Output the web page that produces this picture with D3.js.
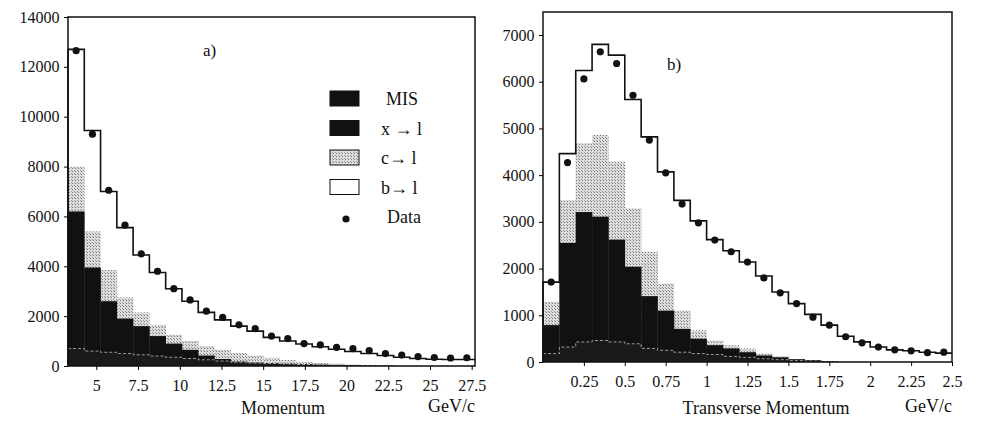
<!DOCTYPE html>
<html><head><meta charset="utf-8">
<script src="https://cdn.jsdelivr.net/npm/d3@7"></script>
<style>
body{margin:0;background:#fff}
text{font-family:"Liberation Serif","DejaVu Serif",serif;fill:#111}
</style></head>
<body><svg id="chart" width="986" height="425"></svg>
<script>
// panel a) : momentum, 25 bins; stacked tops (MIS, +x->l, +c->l, total incl. b->l)
var pTicks = [5, 7.5, 10, 12.5, 15, 17.5, 20, 22.5, 25, 27.5];
var pMisTop = [700,600,550,500,450,400,350,300,250,200,150,120,100,80,60,50,40,30,20,10,0,0,0,0,0];
var pXTop   = [6200,3950,2600,1900,1600,1200,900,650,420,280,180,140,110,90,70,55,45,35,25,15,0,0,0,0,0];
var pCTop   = [8000,5400,3850,2750,2150,1650,1250,1000,800,650,520,420,330,240,170,120,90,60,40,20,0,0,0,0,0];
var pTotal  = [12700,9450,7000,5550,4450,3750,3100,2600,2150,1850,1600,1400,1150,1000,880,770,670,580,500,420,350,300,270,260,260];
var pData   = [12650,9300,7050,5650,4500,3800,3100,2650,2200,1950,1650,1500,1200,1100,900,850,750,700,620,500,440,380,340,320,330];

// panel b) : transverse momentum, 25 bins of 0.1 GeV/c
var tTicks = [0.25, 0.5, 0.75, 1, 1.25, 1.5, 1.75, 2, 2.25, 2.5];
var tMisTop = [180,320,430,460,430,390,290,250,210,180,160,120,100,70,50,30,20,10,0,0,0,0,0,0,0];
var tXTop   = [790,2550,3210,3110,2620,2040,1410,1100,710,500,360,290,210,140,100,60,40,20,0,0,0,0,0,0,0];
var tCTop   = [1290,3460,4680,4860,4290,3290,2360,1680,1100,680,460,360,290,180,120,60,40,20,0,0,0,0,0,0,0];
var tTotal  = [1710,4460,6240,6800,6570,5620,4820,4070,3460,3020,2620,2380,2140,1840,1500,1250,1020,790,550,430,320,260,240,210,190];
var tData   = [1710,4270,6060,6640,6390,5710,4750,4050,3380,2980,2610,2360,2140,1800,1480,1250,960,790,540,410,320,260,240,200,210];

var legendLabels = ["MIS", "x \u2192 l", "c\u2192 l", "b\u2192 l", "Data"];

var svg = d3.select("#chart");
var defs = svg.append("defs");
var pat = defs.append("pattern").attr("id","stip").attr("width",3).attr("height",3)
  .attr("patternUnits","userSpaceOnUse");
pat.append("rect").attr("width",3).attr("height",3).attr("fill","#ddd");
pat.append("rect").attr("width",1).attr("height",1).attr("fill","#777");
pat.append("rect").attr("x",2).attr("y",2).attr("width",1).attr("height",1).attr("fill","#999");

function panel(o){
  var g = svg.append("g");
  var x = d3.scaleLinear().domain(o.xDomain).range([o.x0, o.x1]);
  var y = d3.scaleLinear().domain([0, o.yMax]).range([o.y1, o.yTop]);
  var n = o.total.length;
  var w = (o.xDomain[1] - o.binStart) / n;
  var edge = function(i){ return x(o.binStart + i*w); };
  var layers = [
    {v:o.total, fill:"#fff"},
    {v:o.cTop, fill:"url(#stip)"},
    {v:o.xTop, fill:"#111"},
    {v:o.misTop, fill:"#1a1a1a"}
  ];
  layers.forEach(function(L){
    g.selectAll(null).data(L.v).enter().append("rect")
      .attr("x", function(d,i){ return edge(i); })
      .attr("width", function(d,i){ return edge(i+1)-edge(i)+0.3; })
      .attr("y", function(d){ return y(d); })
      .attr("height", function(d){ return o.y1 - y(d); })
      .attr("fill", L.fill);
  });
  // MIS boundary line
  var step = function(v){
    var pts = [];
    v.forEach(function(d,i){ pts.push([edge(i), y(d)]); pts.push([edge(i+1), y(d)]); });
    return pts;
  };
  g.append("path").attr("d", d3.line()(step(o.misTop))).attr("fill","none")
    .attr("stroke","#bbb").attr("stroke-width",0.8).attr("stroke-dasharray","3,2");
  var tp = step(o.total); tp.unshift([edge(0), o.y1]);
  g.append("path").attr("d", d3.line()(tp)).attr("fill","none")
    .attr("stroke","#111").attr("stroke-width",1.6);
  g.selectAll(null).data(o.data).enter().append("circle")
    .attr("cx", function(d,i){ return (edge(i)+edge(i+1))/2; })
    .attr("cy", function(d){ return y(d); }).attr("r", 3.6).attr("fill","#111");
  g.append("rect").attr("x",o.x0).attr("y",o.yTop-o.pad).attr("width",o.x1-o.x0)
    .attr("height",o.y1-o.yTop+o.pad).attr("fill","none").attr("stroke","#111").attr("stroke-width",1.5);
  var ax = g.append("g").attr("transform","translate(0,"+o.y1+")")
    .call(d3.axisBottom(x).tickValues(o.ticks).tickSize(4).tickFormat(function(d){ return String(d); }));
  ax.select(".domain").remove();
  ax.selectAll("text").attr("font-size",16).attr("dy","1.1em");
  var ay = g.append("g").attr("transform","translate("+o.x0+",0)")
    .call(d3.axisLeft(y).ticks(o.yMax/o.yStep).tickSize(4).tickFormat(d3.format("d")));
  ay.select(".domain").remove();
  ay.selectAll("text").attr("font-size",16).attr("dx","-0.1em");
  g.append("text").attr("x",o.titleX).attr("y",414).attr("text-anchor","middle")
    .attr("font-size",18).text(o.title);
  g.append("text").attr("x",o.x1).attr("y",412).attr("text-anchor","end")
    .attr("font-size",18).text("GeV/c");
  g.append("text").attr("x",o.labX).attr("y",o.labY).attr("font-size",17).text(o.lab);
}

panel({xDomain:[3.3,27.7], binStart:3.3, x0:68, x1:475, y1:366, yTop:17, pad:0, yMax:14000, yStep:2000,
  ticks:pTicks, misTop:pMisTop, xTop:pXTop, cTop:pCTop, total:pTotal, data:pData,
  title:"Momentum", titleX:283, lab:"a)", labX:203, labY:56});
panel({xDomain:[0,2.5], binStart:0, x0:543, x1:952, y1:362, yTop:35, pad:23, yMax:7000, yStep:1000,
  ticks:tTicks, misTop:tMisTop, xTop:tXTop, cTop:tCTop, total:tTotal, data:tData,
  title:"Transverse Momentum", titleX:766, lab:"b)", labX:667, labY:70});

// legend
var lg = svg.append("g");
var fills = ["#111", "#111", "url(#stip)", "#fff"];
legendLabels.forEach(function(t,i){
  var yy = 99 + i*29.5;
  if (i < 4) lg.append("rect").attr("x",330).attr("y",yy-8).attr("width",29).attr("height",15)
    .attr("fill",fills[i]).attr("stroke","#111").attr("stroke-width",1);
  else lg.append("circle").attr("cx",346).attr("cy",yy+2).attr("r",3.6).attr("fill","#111");
  lg.append("text").attr("x", i==0?386:(i==4?387:381)).attr("y",yy+6).attr("font-size",18).text(t);
});
</script></body></html>
